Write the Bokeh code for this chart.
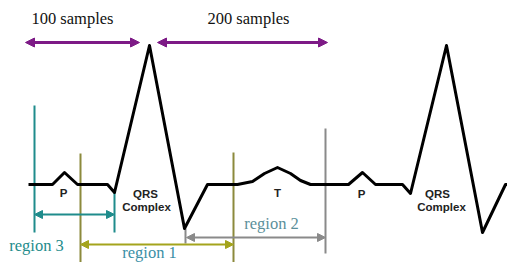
from bokeh.plotting import figure
from bokeh.models import Range1d, Arrow, NormalHead
from bokeh.core.properties import value
from bokeh.embed import file_html
from bokeh.resources import INLINE

# ECG trace (diagram units: px of the reference, y downwards)
trace_x = [28, 52, 64, 77, 107, 114, 149, 184, 207, 237, 252, 264, 277, 290, 300, 310, 348, 362, 375, 402, 410, 446, 482, 505, 507]
trace_y = [184, 184, 172, 184, 184, 192, 45, 228, 184, 184, 181, 173, 167, 173, 180, 184, 184, 172, 184, 184, 193, 45, 232, 184, 184]

wave_labels = ["P", "T", "P"]
wave_lx = [63, 277, 361]
wave_ly = [192, 192, 193]

qrs_lines = ["QRS", "Complex", "QRS", "Complex"]
qrs_lx = [145, 146, 437, 441]
qrs_ly = [193, 206, 193, 206]

# top sample spans
span_names = ["100 samples", "200 samples"]
span_x0 = [25, 157]
span_x1 = [139, 327]
span_y = 42
span_tx = [72, 248]
span_ty = 18

# regions
region_names = ["region 3", "region 1", "region 2"]
region_x0 = [34, 80, 186]
region_x1 = [114, 233, 325]
region_ay = [214, 244, 237]
region_tx = [36, 149, 271]
region_ty = [245, 252, 223]

p = figure(width=507, height=262, x_range=Range1d(0, 507), y_range=Range1d(262, 0),
           output_backend="svg", toolbar_location=None, min_border=0)
p.axis.visible = False
p.grid.visible = False
p.outline_line_color = None
p.background_fill_color = "white"

teal = "#1f8c8c"
olive = "#8c8a3c"
olive_arrow = "#a4a41c"
gray = "#8a8a8a"
purple = "#7d1a86"

serif = value("'Liberation Serif', 'Times New Roman', serif")
sans = value("'Liberation Sans', Arial, sans-serif")

# vertical guide lines
p.segment(x0=[region_x0[0]], y0=[105], x1=[region_x0[0]], y1=[232], line_color=teal, line_width=2)
p.segment(x0=[region_x1[0]], y0=[192], x1=[region_x1[0]], y1=[232], line_color=teal, line_width=2)
p.segment(x0=[region_x0[1]], y0=[153], x1=[region_x0[1]], y1=[262], line_color=olive, line_width=2)
p.segment(x0=[region_x1[1]], y0=[152], x1=[region_x1[1]], y1=[262], line_color=olive, line_width=2)
p.segment(x0=[region_x1[2]], y0=[128], x1=[region_x1[2]], y1=[253], line_color=gray, line_width=2)
p.segment(x0=[185], y0=[228], x1=[185], y1=[243], line_color=gray, line_width=2)

# ECG trace
p.line(trace_x, trace_y, line_color="black", line_width=3, line_join="round")

arrow_cols = [teal, olive_arrow, gray]
for i in range(3):
    c = arrow_cols[i]
    p.add_layout(Arrow(x_start=region_x0[i], y_start=region_ay[i], x_end=region_x1[i], y_end=region_ay[i],
                       line_color=c, line_width=2,
                       start=NormalHead(size=8, fill_color=c, line_color=c),
                       end=NormalHead(size=8, fill_color=c, line_color=c)))

for i in range(2):
    p.add_layout(Arrow(x_start=span_x0[i], y_start=span_y, x_end=span_x1[i], y_end=span_y,
                       line_color=purple, line_width=3,
                       start=NormalHead(size=9, fill_color=purple, line_color=purple),
                       end=NormalHead(size=9, fill_color=purple, line_color=purple)))

p.text(x=span_tx, y=[span_ty] * 2, text=span_names, text_align="center", text_baseline="middle",
       text_font=serif, text_font_size="16.5px", text_color="#111111")

p.text(x=region_tx, y=region_ty, text=region_names, text_align="center", text_baseline="middle",
       text_font=serif, text_font_size="16.5px",
       text_color=["#1f8c8c", "#3b8fa6", "#5b8f9a"])

p.text(x=wave_lx, y=wave_ly, text=wave_labels, text_align="center", text_baseline="middle",
       text_font=sans, text_font_style="bold", text_font_size="11.5px", text_color="#222222")
p.text(x=qrs_lx, y=qrs_ly, text=qrs_lines, text_align="center", text_baseline="middle",
       text_font=sans, text_font_style="bold", text_font_size="11.5px", text_color="#222222")

open("out.html", "w").write(file_html(p, INLINE))
